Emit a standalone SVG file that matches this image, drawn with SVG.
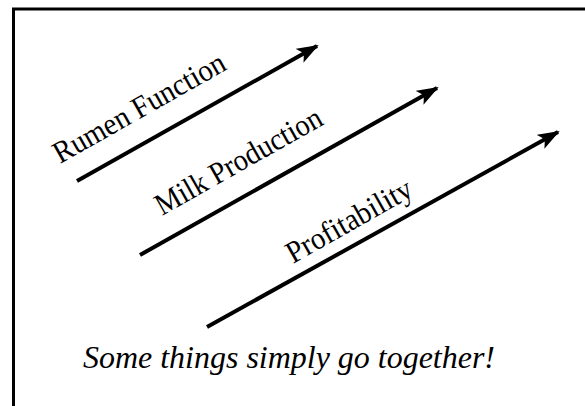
<svg xmlns="http://www.w3.org/2000/svg" width="585" height="406" viewBox="0 0 585 406">
  <style>
    .lbl { font-family: "Liberation Serif", "Times New Roman", serif; font-size: 31px; fill: #000; }
    .cap { font-family: "Liberation Serif", "Times New Roman", serif; font-size: 32px; font-style: italic; fill: #000; }
    .arr { stroke: #000; stroke-width: 4; fill: none; }
  </style>
  <defs>
    <marker id="head" markerUnits="userSpaceOnUse" viewBox="0 0 22 16" refX="20" refY="8" markerWidth="22" markerHeight="16" orient="auto">
      <path d="M0,0 L22,8 L0,16 L5,8 Z" fill="#000"/>
    </marker>
  </defs>
  <path d="M13.5,420 V9 H600" fill="none" stroke="#000" stroke-width="3"/>
  <g id="connectors">
    <line class="arr" x1="77" y1="181" x2="317" y2="46" marker-end="url(#head)"/>
    <line class="arr" x1="140" y1="255" x2="437" y2="88" marker-end="url(#head)"/>
    <line class="arr" x1="207" y1="327" x2="558" y2="132" marker-end="url(#head)"/>
  </g>
  <g id="rumen">
    <text class="lbl" transform="translate(60,164) rotate(-29.5)" textLength="193" lengthAdjust="spacingAndGlyphs">Rumen Function</text>
  </g>
  <g id="milk">
    <text class="lbl" transform="translate(162,216) rotate(-29.5)" textLength="187" lengthAdjust="spacingAndGlyphs">Milk Production</text>
  </g>
  <g id="profit">
    <text class="lbl" transform="translate(293,264) rotate(-29.5)" textLength="140" lengthAdjust="spacingAndGlyphs">Profitability</text>
  </g>
  <g id="caption">
    <text class="cap" x="83" y="368" textLength="412" lengthAdjust="spacingAndGlyphs">Some things simply go together!</text>
  </g>
</svg>
